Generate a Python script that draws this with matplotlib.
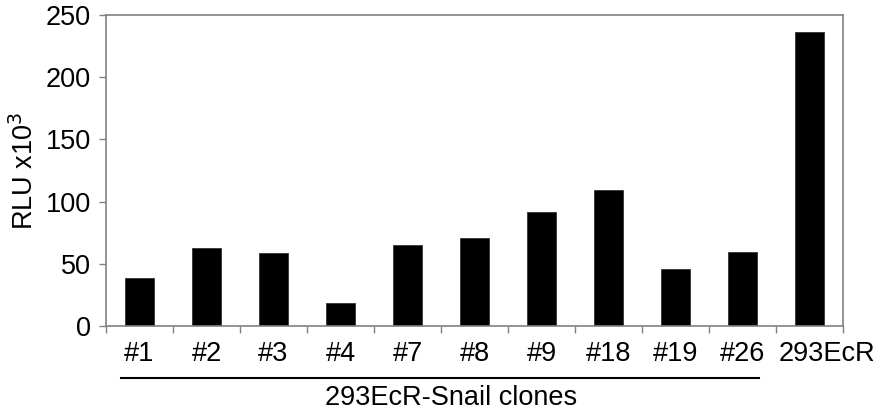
import matplotlib.pyplot as plt
import matplotlib.transforms as mtransforms
import numpy as np

plt.rcParams["font.family"] = ["Liberation Sans", "DejaVu Sans"]

labels = ["#1", "#2", "#3", "#4", "#7", "#8", "#9", "#18", "#19", "#26", "293EcR"]
values = [38.5, 62.5, 58.5, 18.5, 65, 70.5, 91.5, 109, 46, 59.5, 236]
group_label = "293EcR-Snail clones"
n_clones = 10

spine_color = "#808080"
fs = 19.5

fig = plt.figure(figsize=(8.77, 4.11), dpi=100)
ax = fig.add_axes([0.1209, 0.2068, 0.8403, 0.7567])

x = np.arange(len(labels))
ax.bar(x, values, width=0.42, color="black", edgecolor="#333333", linewidth=0.6)

ax.set_xlim(-0.5, len(labels) - 0.5)
ax.set_ylim(0, 250)
ax.set_yticks([0, 50, 100, 150, 200, 250])
ax.set_xticks(x)
ax.set_xticklabels(labels, fontsize=fs)
ax.set_xticks(np.arange(len(labels) + 1) - 0.5, minor=True)
ax.tick_params(axis="x", which="major", length=0, pad=11)
ax.tick_params(axis="x", which="minor", length=5, width=1, color=spine_color,
               direction="out")
ax.tick_params(axis="y", length=5, width=1, color=spine_color, direction="out",
               labelsize=fs, pad=6)
ax.set_ylabel("RLU x10$^3$", fontsize=fs, labelpad=5)

# the long last label sits a little right of its bar, as in the original
last = ax.get_xticklabels()[-1]
last.set_transform(last.get_transform() +
                   mtransforms.ScaledTranslation(17 / 100, 0, fig.dpi_scale_trans))

for s in ax.spines.values():
    s.set_color(spine_color)
    s.set_linewidth(1.2)

# bracket line under the clone group
trans = mtransforms.blended_transform_factory(ax.transData, ax.transAxes)
ax.plot([-0.28, n_clones - 0.75], [-0.167, -0.167], color="black", lw=1.5,
        transform=trans, clip_on=False)
ax.text(4.65, -0.254, group_label, transform=trans,
        ha="center", va="baseline", fontsize=fs)

fig.savefig("out.png", dpi=100)
